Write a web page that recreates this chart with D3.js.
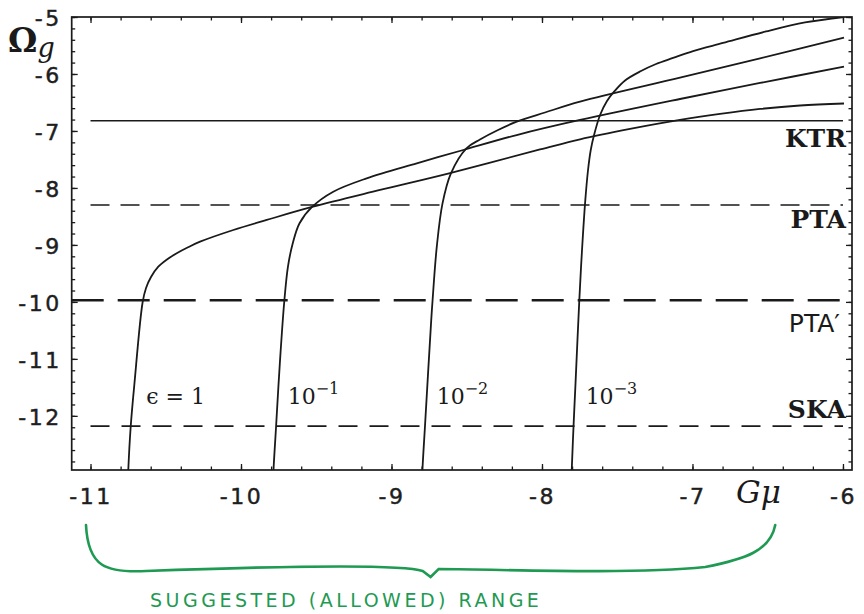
<!DOCTYPE html>
<html>
<head>
<meta charset="utf-8">
<script src="https://cdn.jsdelivr.net/npm/d3@7"></script>
<style>
  html, body { margin: 0; padding: 0; background: #fff; }
  svg { display: block; }
</style>
</head>
<body>
<svg id="chart" width="864" height="614"></svg>
<script>
// log10(G mu) axis ticks and log10(Omega_g) axis ticks
const gmuTicks = [-11, -10, -9, -8, -7, -6];
const omegaTicks = [-12, -11, -10, -9, -8, -7, -6, -5];

// Omega_g(G mu) curves, one per loop-size parameter epsilon: [log G mu, log Omega_g]
const curveEps1 = [
  [-10.752, -13.2], [-10.749, -12.95], [-10.733, -12.19], [-10.708, -11.43], [-10.654, -10.01],
  [-10.631, -9.756], [-10.598, -9.563], [-10.551, -9.387], [-10.492, -9.256], [-10.427, -9.147],
  [-10.352, -9.042], [-10.272, -8.943], [-10.051, -8.738], [-9.829, -8.562], [-9.528, -8.334],
  [-9.076, -8.036], [-8.611, -7.738], [-8.013, -7.325], [-7.747, -7.146], [-7.415, -6.965],
  [-7.083, -6.807], [-6.817, -6.702], [-6.551, -6.614], [-6.285, -6.553], [-5.993, -6.518]
];
const curveEps1e1 = [
  [-9.787, -13.2], [-9.784, -12.95], [-9.767, -12.19], [-9.742, -11.08], [-9.713, -10.01],
  [-9.688, -9.38], [-9.656, -8.97], [-9.611, -8.62], [-9.528, -8.334], [-9.387, -8.066],
  [-9.165, -7.831], [-8.832, -7.567], [-8.523, -7.334], [-8.168, -7.071], [-7.747, -6.807],
  [-7.083, -6.439], [-6.551, -6.158], [-5.993, -5.872]
];
const curveEps1e2 = [
  [-8.797, -13.2], [-8.794, -12.93], [-8.777, -12.16], [-8.736, -10.32], [-8.727, -9.97],
  [-8.699, -9.03], [-8.661, -8.27], [-8.605, -7.743], [-8.502, -7.304], [-8.412, -7.150],
  [-8.292, -6.983], [-8.168, -6.837], [-7.980, -6.676], [-7.747, -6.486], [-7.083, -6.065],
  [-6.551, -5.725], [-5.993, -5.363]
];
const curveEps1e3 = [
  [-7.805, -13.2], [-7.802, -12.93], [-7.790, -12.16], [-7.777, -11.42], [-7.752, -9.97],
  [-7.734, -9.09], [-7.712, -8.21], [-7.694, -7.685], [-7.676, -7.334], [-7.654, -7.071],
  [-7.614, -6.720], [-7.568, -6.474], [-7.521, -6.311], [-7.448, -6.114], [-7.342, -5.948],
  [-7.242, -5.825], [-7.129, -5.719], [-6.996, -5.597], [-6.797, -5.456], [-6.511, -5.254],
  [-6.252, -5.096], [-5.993, -5.0]
];
const curves = [curveEps1, curveEps1e1, curveEps1e2, curveEps1e3];

// curve labels: base text, exponent, anchor position [log G mu, log Omega_g]
const curveLabelBase = ["\u03f5 = 1", "10", "10", "10"];
const curveLabelExp = ["", "\u22121", "\u22122", "\u22123"];
const curveLabelGmu = [-10.63, -9.69, -8.70, -7.71];
const curveLabelOmega = -11.80;

// detector sensitivity levels (log Omega_g)
const sensNames = ["KTR", "PTA", "PTA\u2032", "SKA"];
const sensLevels = [-6.82, -8.30, -9.97, -12.18];
const sensLabelOmega = [-7.28, -8.70, -10.53, -12.04];

// annotated G mu range
const rangeGmu = [-11.03, -6.45];
const rangeText = "SUGGESTED (ALLOWED) RANGE";

const svg = d3.select("#chart");
const plotLeft = 71.7, plotRight = 852, plotTop = 17, plotBottom = 470;

const x = d3.scaleLinear().domain([-11.125, -5.94]).range([plotLeft, plotRight]);
const y = d3.scaleLinear().domain([-12.95, -5]).range([plotBottom, plotTop]);

const ink = "#1a1a1a";

// clip for data marks
svg.append("defs").append("clipPath").attr("id", "plotClip")
  .append("rect").attr("x", plotLeft).attr("y", plotTop)
  .attr("width", plotRight - plotLeft).attr("height", plotBottom - plotTop);

const minorX = d3.range(-11.0, -5.94, 0.2).map(v => +v.toFixed(2));
const minorY = d3.range(-12.8, -4.99, 0.2).map(v => +v.toFixed(2));

function styleAxis(g) {
  g.select(".domain").remove();
  g.selectAll(".tick line").attr("stroke", ink).attr("stroke-width", 1.3);
}

// minor ticks on all four sides (inward)
svg.append("g").attr("transform", `translate(0,${plotBottom})`)
  .call(d3.axisBottom(x).tickValues(minorX).tickSize(-3.5).tickFormat(""))
  .call(styleAxis);
svg.append("g").attr("transform", `translate(0,${plotTop})`)
  .call(d3.axisTop(x).tickValues(minorX).tickSize(-3.5).tickFormat(""))
  .call(styleAxis);
svg.append("g").attr("transform", `translate(${plotLeft},0)`)
  .call(d3.axisLeft(y).tickValues(minorY).tickSize(-3.5).tickFormat(""))
  .call(styleAxis);
svg.append("g").attr("transform", `translate(${plotRight},0)`)
  .call(d3.axisRight(y).tickValues(minorY).tickSize(-3.5).tickFormat(""))
  .call(styleAxis);

// major ticks with labels
const xAxis = svg.append("g").attr("transform", `translate(0,${plotBottom})`)
  .call(d3.axisBottom(x).tickValues(gmuTicks).tickSize(-6).tickPadding(14).tickFormat(d => String(d)))
  .call(styleAxis);
svg.append("g").attr("transform", `translate(0,${plotTop})`)
  .call(d3.axisTop(x).tickValues(gmuTicks).tickSize(-6).tickFormat(""))
  .call(styleAxis);
const yAxis = svg.append("g").attr("transform", `translate(${plotLeft},0)`)
  .call(d3.axisLeft(y).tickValues(omegaTicks).tickSize(-6).tickPadding(10).tickFormat(d => String(d)))
  .call(styleAxis);
svg.append("g").attr("transform", `translate(${plotRight},0)`)
  .call(d3.axisRight(y).tickValues(omegaTicks).tickSize(-6).tickFormat(""))
  .call(styleAxis);

[xAxis, yAxis].forEach(g => g.selectAll(".tick text")
  .attr("fill", "#1e1e1e")
  .attr("stroke", "#1e1e1e")
  .attr("stroke-width", 0.45)
  .style("font-family", "'DejaVu Sans', sans-serif")
  .style("font-size", "22px")
  .style("letter-spacing", "2.5px"));
xAxis.selectAll(".tick text").attr("dy", "0.9em");
yAxis.selectAll(".tick text").attr("dy", "0.38em");

// frame
svg.append("rect").attr("x", plotLeft).attr("y", plotTop)
  .attr("width", plotRight - plotLeft).attr("height", plotBottom - plotTop)
  .attr("fill", "none").attr("stroke", ink).attr("stroke-width", 1.7);

const plot = svg.append("g").attr("clip-path", "url(#plotClip)");

// sensitivity lines
const sensStyles = [
  { dash: null, width: 1.6, x0: -11.0, x1: -6.0 },
  { dash: "19 11", width: 1.6, x0: -11.0, x1: -6.0 },
  { dash: "32 14", width: 2.6, x0: -11.125, x1: -5.94 },
  { dash: "19 12", width: 1.6, x0: -11.0, x1: -6.0 }
];
plot.selectAll("line.sens").data(sensLevels).join("line")
  .attr("class", "sens")
  .attr("x1", (d, i) => x(sensStyles[i].x0))
  .attr("x2", (d, i) => x(sensStyles[i].x1))
  .attr("y1", d => y(d)).attr("y2", d => y(d))
  .attr("stroke", ink)
  .attr("stroke-width", (d, i) => sensStyles[i].width)
  .attr("stroke-dasharray", (d, i) => sensStyles[i].dash);

// curves
const line = d3.line().x(d => x(d[0])).y(d => y(d[1])).curve(d3.curveCatmullRom.alpha(0.5));
plot.selectAll("path.curve").data(curves).join("path")
  .attr("class", "curve")
  .attr("d", line)
  .attr("fill", "none")
  .attr("stroke", ink)
  .attr("stroke-width", 1.8);

// curve labels
const labels = svg.selectAll("text.clabel").data(curveLabelBase).join("text")
  .attr("class", "clabel")
  .attr("x", (d, i) => x(curveLabelGmu[i]))
  .attr("y", y(curveLabelOmega))
  .attr("fill", ink)
  .style("font-family", "'DejaVu Serif', serif")
  .style("font-size", "22px");
labels.append("tspan").text(d => d);
labels.append("tspan")
  .attr("dy", -10)
  .style("font-size", "16px")
  .text((d, i) => curveLabelExp[i]);

// detector names
svg.selectAll("text.sname").data(sensNames).join("text")
  .attr("class", "sname")
  .attr("x", (d, i) => i === 2 ? 840 : 846)
  .attr("y", (d, i) => y(sensLabelOmega[i]))
  .attr("text-anchor", "end")
  .attr("fill", ink)
  .style("font-family", (d, i) => i === 2 ? "'DejaVu Sans', sans-serif" : "'DejaVu Serif', serif")
  .style("font-size", "25px")
  .style("font-weight", (d, i) => i === 2 ? "normal" : "bold")
  .text(d => d);

// axis titles
const yTitle = svg.append("text").attr("x", 8).attr("y", 52)
  .attr("fill", ink).style("font-family", "'DejaVu Serif', serif");
yTitle.append("tspan").style("font-size", "33px").style("font-weight", "bold").text("\u03a9");
yTitle.append("tspan").attr("dy", 5).style("font-size", "27px").style("font-style", "italic").text("g");

svg.append("text").attr("x", 736).attr("y", 503)
  .attr("fill", ink)
  .style("font-family", "'DejaVu Serif', serif")
  .style("font-size", "31px").style("font-style", "italic")
  .text("G\u03bc");

// range brace under the G mu axis
const green = "#1f9a52";
const bx0 = x(rangeGmu[0]), bx1 = x(rangeGmu[1]), bm = (bx0 + bx1) / 2;
const yTip = 525, yMid = 571, yCusp = 577;
const brace = d3.path();
brace.moveTo(bx0, yTip);
brace.bezierCurveTo(bx0 + 2, yMid - 4, bx0 + 20, yMid + 2, bx0 + 60, yMid);
brace.bezierCurveTo(bm - 120, yMid - 6, bm - 25, yMid - 6, bm - 8, yMid);
brace.lineTo(bm, yCusp);
brace.lineTo(bm + 8, yMid - 2);
brace.bezierCurveTo(bm + 60, yMid - 2, bx1 - 150, yMid + 4, bx1 - 70, yMid - 4);
brace.bezierCurveTo(bx1 - 30, yMid - 12, bx1 - 5, yMid - 20, bx1, yTip);
svg.append("path").attr("d", brace.toString())
  .attr("fill", "none").attr("stroke", green)
  .attr("stroke-width", 2.6).attr("stroke-linecap", "round");

svg.append("text").attr("x", 150).attr("y", 607)
  .attr("fill", green)
  .style("font-family", "'DejaVu Sans', sans-serif")
  .style("font-size", "19px")
  .style("letter-spacing", "3.5px")
  .text(rangeText);
</script>
</body>
</html>
